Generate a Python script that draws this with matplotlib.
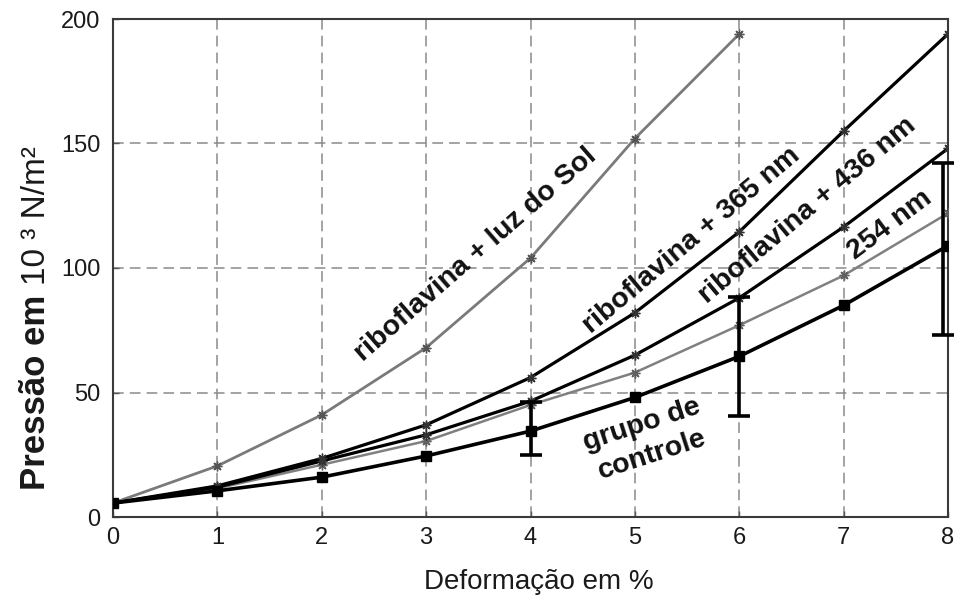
import matplotlib
matplotlib.use("Agg")
import matplotlib.pyplot as plt
import matplotlib.transforms as mtransforms

plt.rcParams['font.family'] = ['Liberation Sans', 'DejaVu Sans']

# Deformation (%) on the x axis
deform = [0, 1, 2, 3, 4, 5, 6, 7, 8]
deform_sun = [0, 1, 2, 3, 4, 5, 6]

# Pressure (10^3 N/m^2) for each treatment
p_sun = [5.6, 20.5, 41, 68, 104, 152, 194]
p_365 = [5.6, 12.5, 23.5, 37, 56, 82, 114.5, 155, 194]
p_436 = [5.6, 12, 22.5, 33, 46.5, 65, 88, 116.5, 148]
p_254 = [5.6, 11.5, 21, 30.5, 45, 58, 77, 97, 122]
p_ctrl = [5.6, 10.5, 16, 24.5, 34.5, 48, 64.5, 85, 109]

# Spread of the control group at selected deformations
err_x = [4, 6, 8]
err_y = [34.5, 64.5, 109]
err_lo = [9.5, 24, 36]
err_hi = [11.5, 24, 33]

xticks = [0, 1, 2, 3, 4, 5, 6, 7, 8]
yticks = [0, 50, 100, 150, 200]

fig = plt.figure(figsize=(9.56, 6.07), dpi=100)
ax = fig.add_axes([113 / 956, 90 / 607, (948 - 113) / 956, (517 - 19) / 607])

ax.set_xlim(0, 8)
ax.set_ylim(0, 200)
ax.set_xticks(xticks)
ax.set_yticks(yticks)

ax.grid(True, color='#8a8a8a', linewidth=1.1, dashes=(7, 4))
ax.set_axisbelow(True)
for s in ax.spines.values():
    s.set_color('#3a3a3a')
    s.set_linewidth(1.5)
ax.tick_params(direction='in', length=4, width=1, color='#555555',
               labelsize=17, labelcolor='#1a1a1a')
ax.tick_params(axis='x', pad=7)
ax.tick_params(axis='y', pad=9)

star = (8, 2, 0)
ax.plot(deform_sun, p_sun, color='#7a7a7a', lw=2.0, marker=star, ms=7,
        mew=1.0, mec='#555555', zorder=3)
ax.plot(deform, p_254, color='#808080', lw=1.8, marker=star, ms=7,
        mew=1.0, mec='#606060', zorder=3)
ax.plot(deform, p_436, color='black', lw=2.3, marker=star, ms=7,
        mew=1.0, mec='#333333', zorder=4)
ax.plot(deform, p_365, color='black', lw=2.3, marker=star, ms=7,
        mew=1.0, mec='#333333', zorder=4)
ax.plot(deform, p_ctrl, color='black', lw=2.6, marker='s', ms=7,
        zorder=5)

# error bars; the one on the right edge is nudged off the frame
shift = mtransforms.offset_copy(ax.transData, fig=fig, x=-5, y=0, units='dots')
for xi, yi, lo, hi in zip(err_x, err_y, err_lo, err_hi):
    tr = shift if xi == xticks[-1] else ax.transData
    ax.errorbar([xi], [yi], yerr=[[lo], [hi]], fmt='none', ecolor='black',
                elinewidth=2.6, capsize=8, capthick=2.6, transform=tr,
                clip_on=False, zorder=6)

# axis titles
ax.set_xlabel('Deformação em %', fontsize=20, color='#1a1a1a', labelpad=13)
ax.xaxis.set_label_coords(0.51, -0.105)
fig.canvas.draw()
t1 = fig.text(45 / 956, 117 / 607, 'Pressão em', rotation=90,
              rotation_mode='anchor', ha='left', va='baseline',
              fontsize=25, fontweight='bold', color='#1a1a1a')
fig.canvas.draw()
bb = t1.get_window_extent()
fig.text(45 / 956, (bb.y1 + 10) / 607, '10 ³ N/m²', rotation=90,
         rotation_mode='anchor', ha='left', va='baseline',
         fontsize=24, color='#1a1a1a')

# curve labels, placed in pixel space
def px(xp, yp):
    return (xp / 956, 1 - yp / 607)

lab = dict(fontsize=20.5, fontweight='bold', color='#111111',
           rotation_mode='anchor', ha='center', va='center')
fig.text(*px(476, 255), 'riboflavina + luz do Sol', rotation=41, **lab)
fig.text(*px(692, 240), 'riboflavina + 365 nm', rotation=40, **lab)
fig.text(*px(808, 210), 'riboflavina + 436 nm', rotation=40, **lab)
fig.text(*px(890, 225), '254 nm', rotation=37, **lab)
fig.text(*px(647, 440), 'grupo de\ncontrole', rotation=18,
         multialignment='center', linespacing=1.25, **lab)

fig.savefig('out.png', dpi=100, facecolor='white')
